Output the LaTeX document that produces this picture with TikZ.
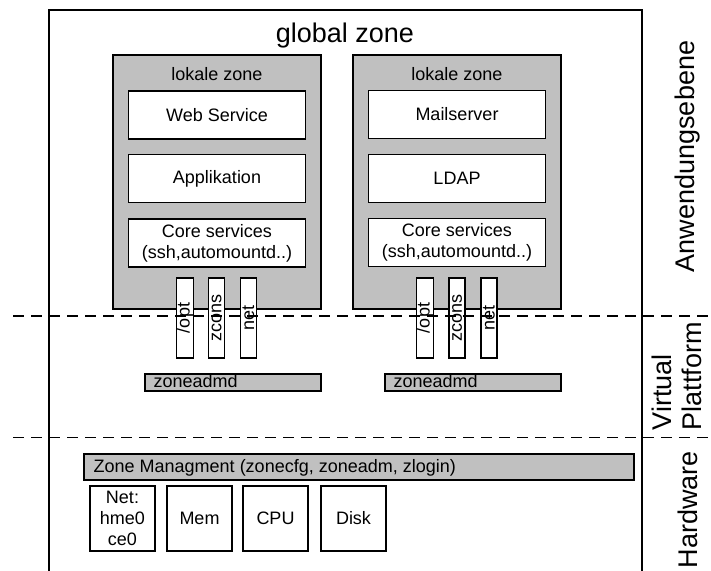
\documentclass[tikz,border=0pt]{standalone}
\usepackage{fontspec}
\setmainfont{Liberation Sans}

\definecolor{zonegray}{RGB}{192,192,192}

\tikzset{
    zonebox/.style={draw, fill=zonegray, minimum width=104pt, minimum height=127pt},
    svcbox/.style={draw, fill=white, minimum width=88.5pt, minimum height=24pt, align=center, inner sep=1pt},
    mountbar/.style={draw, fill=white, rotate=90, minimum width=40pt, minimum height=8pt, inner sep=0pt},
    daemonbar/.style={draw, fill=zonegray, minimum width=88pt, minimum height=8.5pt, inner sep=0pt},
    hwbox/.style={draw, fill=white, minimum width=32.5pt, minimum height=32.5pt, align=center, inner sep=1pt},
    layerline/.style={dash pattern=on 5.5pt off 3.5pt},
    bigtext/.style={font=\fontsize{13.5}{15}\selectfont},
}

\begin{document}
\begin{tikzpicture}[x=0.5pt, y=-0.5pt, line width=0.7pt, font=\fontsize{9}{10.5}\selectfont]
    \useasboundingbox (0,0) rectangle (711,571);

    \draw (49,571) -- (49,10) -- (642,10) -- (642,571);
    \node[bigtext] (global) at (345,36) {global zone};

    \node[zonebox] (zoneA) at (217,182) {};
    \node (zoneAlabel) at (217,74) {lokale zone};
    \node[svcbox] (web) at (217,115) {Web Service};
    \node[svcbox] (app) at (217,178.5) {Applikation};
    \node[svcbox] (coreA) at (217,243) {Core services\\(ssh,automountd..)};

    \node[zonebox] (zoneB) at (457,182) {};
    \node (zoneBlabel) at (457,74) {lokale zone};
    \node[svcbox] (mail) at (457,114.5) {Mailserver};
    \node[svcbox] (ldap) at (457,178.5) {LDAP};
    \node[svcbox] (coreB) at (457,242.5) {Core services\\(ssh,automountd..)};

    \node[mountbar] (optA) at (185,318) {/opt};
    \node[mountbar] (zconsA) at (216.5,318) {zcons};
    \node[mountbar] (netA) at (248.5,318) {net};
    \node[mountbar] (optB) at (425,318) {/opt};
    \node[mountbar] (zconsB) at (457,318) {zcons};
    \node[mountbar] (netB) at (489,318) {net};

    \node[daemonbar] (admA) at (233,382.5) {};
    \node[anchor=base west, inner sep=0pt] (admAlabel) at (153,387.5) {zoneadmd};
    \node[daemonbar] (admB) at (473,382.5) {};
    \node[anchor=base west, inner sep=0pt] (admBlabel) at (393,387.5) {zoneadmd};

    \node[draw, fill=zonegray, minimum width=275pt, minimum height=13pt, inner sep=0pt] (mgmt) at (359,467) {};
    \node[anchor=base west, inner sep=0pt] (mgmtlabel) at (93,472) {Zone Managment (zonecfg, zoneadm, zlogin)};

    \node[hwbox] (nic) at (122.5,518.5) {Net:\\hme0\\ce0};
    \node[hwbox] (mem) at (199.5,518.5) {Mem};
    \node[hwbox] (cpu) at (275.5,518.5) {CPU};
    \node[hwbox] (disk) at (353.5,518.5) {Disk};

    \draw[layerline] (13,316) -- (711,316);
    \draw[layerline] (13,437.5) -- (711,437.5);

    \node[bigtext, rotate=90] (appl) at (688,156.5) {Anwendungsebene};
    \node[bigtext, rotate=90, anchor=west, align=left, inner sep=0pt] (virt) at (677,431) {Virtual\\Plattform};
    \node[bigtext, rotate=90, anchor=west, inner sep=0pt] (hw) at (688,569) {Hardware};
\end{tikzpicture}
\end{document}
